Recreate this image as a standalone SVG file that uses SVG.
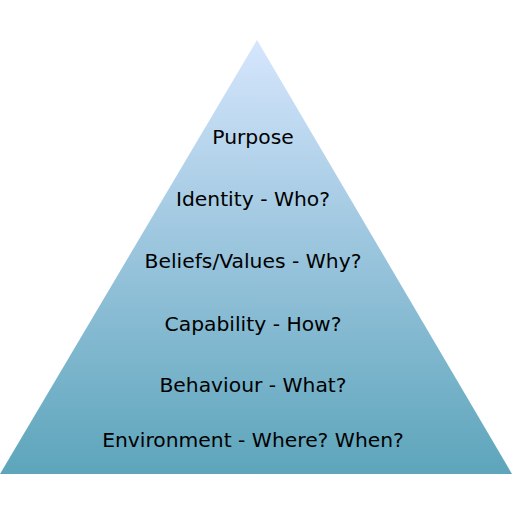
<svg xmlns="http://www.w3.org/2000/svg" width="512" height="512" viewBox="0 0 512 512">
<defs>
<linearGradient id="g" x1="0" y1="40" x2="0" y2="474" gradientUnits="userSpaceOnUse">
<stop offset="0" stop-color="#d6e6fd"/>
<stop offset="0.5" stop-color="#98c4dc"/>
<stop offset="1" stop-color="#5da5bb"/>
</linearGradient>
<style>
text{font-family:"DejaVu Sans",sans-serif;font-size:20.3px;fill:#000;text-anchor:middle}
</style>
</defs>
<g id="pyramid"><polygon points="257,40 512,474 0,474" fill="url(#g)"/></g>
<g id="connectors"/>
<g id="purpose"><text x="253" y="144">Purpose</text></g>
<g id="identity"><text x="253" y="206">Identity - Who?</text></g>
<g id="beliefs"><text x="253" y="268">Beliefs/Values - Why?</text></g>
<g id="capability"><text x="253" y="331">Capability - How?</text></g>
<g id="behaviour"><text x="253" y="392">Behaviour - What?</text></g>
<g id="environment"><text x="253" y="447">Environment - Where? When?</text></g>
</svg>
